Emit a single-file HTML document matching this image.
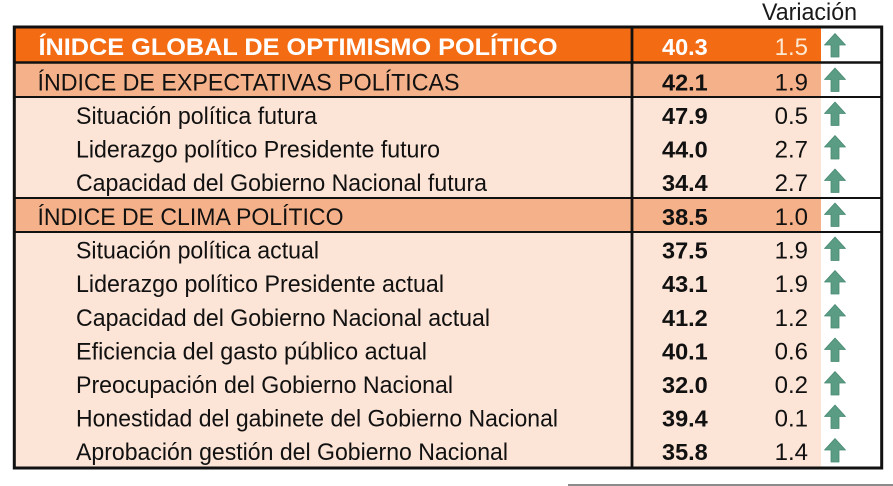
<!DOCTYPE html>
<html>
<head>
<meta charset="utf-8">
<style>
  html,body{margin:0;padding:0;background:#ffffff;}
  body{width:893px;height:486px;overflow:hidden;}
  svg{display:block;}
  text{font-family:"Liberation Sans", Arial, sans-serif;}
</style>
</head>
<body>
<svg width="893" height="486" viewBox="0 0 893 486" xmlns="http://www.w3.org/2000/svg">
  <defs>
    <g id="arr">
      <polygon points="0,-12 10.5,-0.5 4,-0.5 4,11.5 -4,11.5 -4,-0.5 -10.5,-0.5" fill="#5a9c84" stroke="#4a8a72" stroke-width="0.8" stroke-linejoin="round"/>
    </g>
  </defs>

  <!-- Header -->
  <text x="762" y="20" font-size="24" fill="#1a1a1a" textLength="95" lengthAdjust="spacingAndGlyphs">Variación</text>

  <!-- Fills -->
  <rect x="14" y="27" width="807" height="35.5" fill="#f36c14"/>
  <rect x="14" y="62.5" width="807" height="34.5" fill="#f5b28a"/>
  <rect x="14" y="97" width="807" height="101" fill="#fce4d6"/>
  <rect x="14" y="198" width="807" height="34" fill="#f5b28a"/>
  <rect x="14" y="232" width="807" height="236" fill="#fce4d6"/>

  <!-- Grid lines -->
  <line x1="14" y1="62.5" x2="882" y2="62.5" stroke="#111" stroke-width="2.4"/>
  <line x1="14" y1="97" x2="882" y2="97" stroke="#111" stroke-width="2"/>
  <line x1="14" y1="198" x2="882" y2="198" stroke="#111" stroke-width="2"/>
  <line x1="14" y1="232" x2="882" y2="232" stroke="#111" stroke-width="2"/>
  <line x1="632" y1="27" x2="632" y2="468" stroke="#111" stroke-width="2.8"/>
  <rect x="14.3" y="27" width="867.4" height="441" fill="none" stroke="#111" stroke-width="3"/>

  <!-- Title row -->
  <text x="38.5" y="55" font-size="24" font-weight="bold" fill="#ffffff" textLength="519" lengthAdjust="spacingAndGlyphs">ÍNIDCE GLOBAL DE OPTIMISMO POLÍTICO</text>
  <text x="662" y="55" font-size="23.5" font-weight="bold" fill="#ffffff">40.3</text>
  <text x="808" y="55" font-size="24" fill="#fde8d2" text-anchor="end">1.5</text>
  <use href="#arr" x="835" y="45.5"/>

  <!-- Section: Expectativas -->
  <text x="37.5" y="90.5" font-size="24" fill="#111" textLength="422" lengthAdjust="spacingAndGlyphs">ÍNDICE DE EXPECTATIVAS POLÍTICAS</text>
  <text x="662" y="90.5" font-size="23.5" font-weight="bold" fill="#111">42.1</text>
  <text x="808" y="90.5" font-size="24" fill="#111" text-anchor="end">1.9</text>
  <use href="#arr" x="835" y="80"/>

  <text x="76" y="124" font-size="24" fill="#111" textLength="241" lengthAdjust="spacingAndGlyphs">Situación política futura</text>
  <text x="662" y="124" font-size="23.5" font-weight="bold" fill="#111">47.9</text>
  <text x="808" y="124" font-size="24" fill="#111" text-anchor="end">0.5</text>
  <use href="#arr" x="835" y="114"/>

  <text x="76" y="157.5" font-size="24" fill="#111" textLength="364" lengthAdjust="spacingAndGlyphs">Liderazgo político Presidente futuro</text>
  <text x="662" y="157.5" font-size="23.5" font-weight="bold" fill="#111">44.0</text>
  <text x="808" y="157.5" font-size="24" fill="#111" text-anchor="end">2.7</text>
  <use href="#arr" x="835" y="147.5"/>

  <text x="76" y="191" font-size="24" fill="#111" textLength="411" lengthAdjust="spacingAndGlyphs">Capacidad del Gobierno Nacional futura</text>
  <text x="662" y="191" font-size="23.5" font-weight="bold" fill="#111">34.4</text>
  <text x="808" y="191" font-size="24" fill="#111" text-anchor="end">2.7</text>
  <use href="#arr" x="835" y="181"/>

  <!-- Section: Clima -->
  <text x="37.5" y="225" font-size="24" fill="#111" textLength="306" lengthAdjust="spacingAndGlyphs">ÍNDICE DE CLIMA POLÍTICO</text>
  <text x="662" y="225" font-size="23.5" font-weight="bold" fill="#111">38.5</text>
  <text x="808" y="225" font-size="24" fill="#111" text-anchor="end">1.0</text>
  <use href="#arr" x="835" y="215"/>

  <text x="76" y="258.5" font-size="24" fill="#111" textLength="243" lengthAdjust="spacingAndGlyphs">Situación política actual</text>
  <text x="662" y="258.5" font-size="23.5" font-weight="bold" fill="#111">37.5</text>
  <text x="808" y="258.5" font-size="24" fill="#111" text-anchor="end">1.9</text>
  <use href="#arr" x="835" y="249"/>

  <text x="76" y="292" font-size="24" fill="#111" textLength="368" lengthAdjust="spacingAndGlyphs">Liderazgo político Presidente actual</text>
  <text x="662" y="292" font-size="23.5" font-weight="bold" fill="#111">43.1</text>
  <text x="808" y="292" font-size="24" fill="#111" text-anchor="end">1.9</text>
  <use href="#arr" x="835" y="282.5"/>

  <text x="76" y="326" font-size="24" fill="#111" textLength="414" lengthAdjust="spacingAndGlyphs">Capacidad del Gobierno Nacional actual</text>
  <text x="662" y="326" font-size="23.5" font-weight="bold" fill="#111">41.2</text>
  <text x="808" y="326" font-size="24" fill="#111" text-anchor="end">1.2</text>
  <use href="#arr" x="835" y="316.5"/>

  <text x="76" y="359.5" font-size="24" fill="#111" textLength="351" lengthAdjust="spacingAndGlyphs">Eficiencia del gasto público actual</text>
  <text x="662" y="359.5" font-size="23.5" font-weight="bold" fill="#111">40.1</text>
  <text x="808" y="359.5" font-size="24" fill="#111" text-anchor="end">0.6</text>
  <use href="#arr" x="835" y="350"/>

  <text x="76" y="393" font-size="24" fill="#111" textLength="377" lengthAdjust="spacingAndGlyphs">Preocupación del Gobierno Nacional</text>
  <text x="662" y="393" font-size="23.5" font-weight="bold" fill="#111">32.0</text>
  <text x="808" y="393" font-size="24" fill="#111" text-anchor="end">0.2</text>
  <use href="#arr" x="835" y="383.5"/>

  <text x="76" y="426.5" font-size="24" fill="#111" textLength="482" lengthAdjust="spacingAndGlyphs">Honestidad del gabinete del Gobierno Nacional</text>
  <text x="662" y="426.5" font-size="23.5" font-weight="bold" fill="#111">39.4</text>
  <text x="808" y="426.5" font-size="24" fill="#111" text-anchor="end">0.1</text>
  <use href="#arr" x="835" y="417"/>

  <text x="76" y="460" font-size="24" fill="#111" textLength="432" lengthAdjust="spacingAndGlyphs">Aprobación gestión del Gobierno Nacional</text>
  <text x="662" y="460" font-size="23.5" font-weight="bold" fill="#111">35.8</text>
  <text x="808" y="460" font-size="24" fill="#111" text-anchor="end">1.4</text>
  <use href="#arr" x="835" y="450.5"/>

  <!-- bottom gray rule -->
  <rect x="568" y="484" width="325" height="2" fill="#8c8c8c"/>
</svg>
</body>
</html>
